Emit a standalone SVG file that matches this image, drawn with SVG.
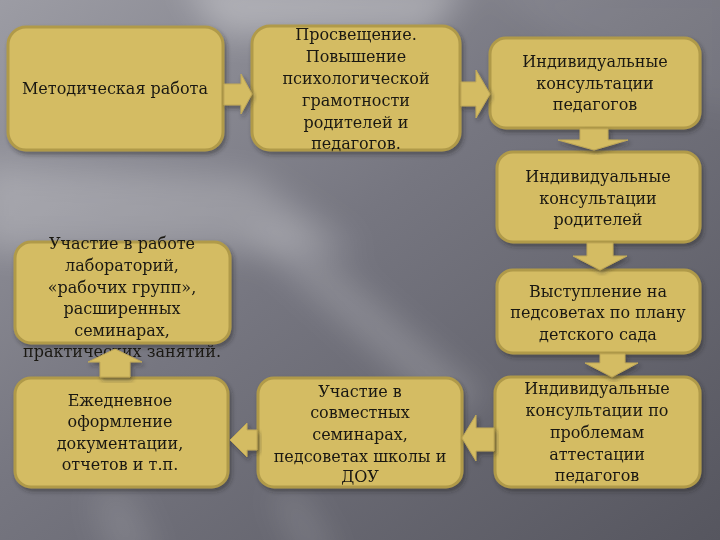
<svg xmlns="http://www.w3.org/2000/svg" width="720" height="540" viewBox="0 0 720 540">
<defs>
<linearGradient id="bg" x1="0" y1="0" x2="1" y2="1">
<stop offset="0" stop-color="#9c9ca4"/>
<stop offset="0.45" stop-color="#767680"/>
<stop offset="1" stop-color="#56565f"/>
</linearGradient>
<filter id="blur" x="-50%" y="-50%" width="200%" height="200%"><feGaussianBlur stdDeviation="16"/></filter>
<filter id="sh" x="-10%" y="-10%" width="125%" height="130%"><feDropShadow dx="2" dy="3" stdDeviation="2" flood-color="#202028" flood-opacity="0.45"/></filter>
<style>
.box{fill:#d4bc64;stroke:#b09a4a;stroke-width:3;filter:url(#sh)}
.arr{fill:#d4bc64;stroke:#c0a856;stroke-width:1;filter:url(#sh)}
text{font-family:"DejaVu Serif","Liberation Serif",serif;font-size:16px;fill:#1a1812;text-anchor:middle}
</style>
</defs>
<rect width="720" height="540" fill="url(#bg)"/>
<g filter="url(#blur)" fill="#ffffff">
<polygon points="180,-20 470,-20 430,35 220,35" opacity="0.3"/>
<polygon points="-20,165 250,175 360,250 -20,250" opacity="0.22"/>
<polygon points="240,230 290,230 490,400 440,410" opacity="0.18"/>
<polygon points="90,490 130,490 160,560 110,560" opacity="0.12"/>
<polygon points="270,490 300,490 340,560 300,560" opacity="0.12"/>
<polygon points="480,-20 740,-20 740,120 560,40" opacity="0.06"/>
</g>
<g id="nodes">
<g id="n1"><rect class="box" x="8" y="27" width="215" height="123" rx="18"/>
<text x="115" y="94">Методическая работа</text></g>
<g id="n2"><rect class="box" x="252" y="26" width="208" height="124" rx="18"/>
<text x="356" y="40">Просвещение.</text><text x="356" y="62">Повышение</text><text x="356" y="84">психологической</text><text x="356" y="106">грамотности</text><text x="356" y="128">родителей и</text><text x="356" y="149">педагогов.</text></g>
<g id="n3"><rect class="box" x="490" y="38" width="210" height="90" rx="16"/>
<text x="595" y="67">Индивидуальные</text><text x="595" y="89">консультации</text><text x="595" y="110">педагогов</text></g>
<g id="n4"><rect class="box" x="497" y="152" width="203" height="90" rx="16"/>
<text x="598" y="182">Индивидуальные</text><text x="598" y="204">консультации</text><text x="598" y="225">родителей</text></g>
<g id="n5"><rect class="box" x="497" y="270" width="203" height="83" rx="16"/>
<text x="598" y="297">Выступление на</text><text x="598" y="318">педсоветах по плану</text><text x="598" y="340">детского сада</text></g>
<g id="n6"><rect class="box" x="495" y="377" width="205" height="110" rx="16"/>
<text x="597" y="394">Индивидуальные</text><text x="597" y="416">консультации по</text><text x="597" y="438">проблемам</text><text x="597" y="460">аттестации</text><text x="597" y="481">педагогов</text></g>
<g id="n7"><rect class="box" x="258" y="378" width="204" height="109" rx="16"/>
<text x="360" y="397">Участие в</text><text x="360" y="418">совместных</text><text x="360" y="440">семинарах,</text><text x="360" y="462">педсоветах школы и</text><text x="360" y="482">ДОУ</text></g>
<g id="n8"><rect class="box" x="15" y="378" width="213" height="109" rx="16"/>
<text x="120" y="406">Ежедневное</text><text x="120" y="427">оформление</text><text x="120" y="449">документации,</text><text x="120" y="470">отчетов и т.п.</text></g>
<g id="n9"><rect class="box" x="15" y="242" width="215" height="101" rx="16"/>
<text x="122" y="249">Участие в работе</text><text x="122" y="271">лабораторий,</text><text x="122" y="293">«рабочих групп»,</text><text x="122" y="314">расширенных</text><text x="122" y="336">семинарах,</text><text x="122" y="357">практических занятий.</text></g>
</g>
<g id="connectors">
<path class="arr" d="M224,84 H241 V74 L252,94 L241,114 V105 H224 Z"/>
<path class="arr" d="M461,82 H476 V70 L490,94 L476,118 V106 H461 Z"/>
<path class="arr" d="M580,129 V140 H558 L594,150 L628,140 H608 V129 Z"/>
<path class="arr" d="M587,243 V256 H573 L600,270 L627,256 H613 V243 Z"/>
<path class="arr" d="M600,354 V363 H585 L612,377 L638,363 H625 V354 Z"/>
<path class="arr" d="M494,428 H476 V415 L462,438 L476,461 V451 H494 Z"/>
<path class="arr" d="M257,430 H247 V423 L230,440 L247,457 V450 H257 Z"/>
<path class="arr" d="M100,377 V362 H88 L115,349 L142,362 H130 V377 Z"/>
</g>
</svg>
